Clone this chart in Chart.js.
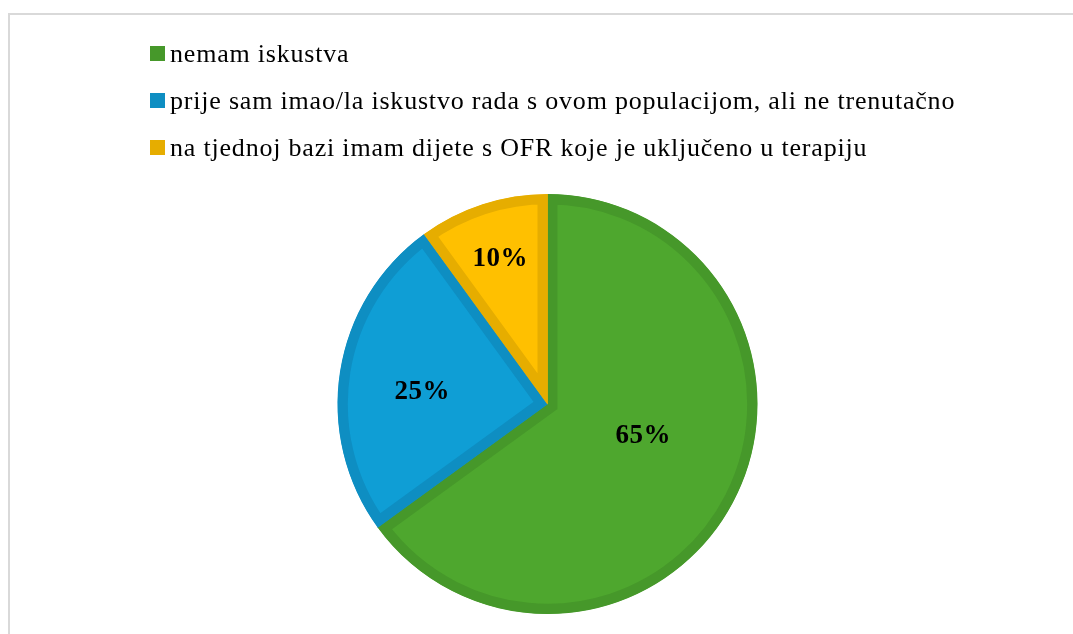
<!DOCTYPE html>
<html>
<head>
<meta charset="utf-8">
<script src="https://cdn.jsdelivr.net/npm/chart.js@4.4.1/dist/chart.umd.min.js"></script>
<style>
  html, body { margin: 0; padding: 0; background: #fff; overflow: hidden; }
  #wrap { position: relative; width: 1073px; height: 634px; }
  #frame { position: absolute; left: 8px; top: 13px; width: 2000px; height: 2000px; border: 2px solid #d9d9d9; box-sizing: border-box; }
  canvas { position: absolute; left: 0; top: 0; }
</style>
</head>
<body>
<div id="wrap">
  <div id="frame"></div>
  <canvas id="c" width="1073" height="634"></canvas>
</div>
<script>
const categories = [
  'nemam iskustva',
  'prije sam imao/la iskustvo rada s ovom populacijom, ali ne trenutačno',
  'na tjednoj bazi imam dijete s OFR koje je uključeno u terapiju'
];
const values = [65, 25, 10];

const fillColors = ['#4EA72E', '#0F9ED5', '#FFC000'];
const edgeColors = ['#46982A', '#0E8EC2', '#E6AD00'];
// label placement: fraction of radius, angle tweak (degrees)
const labelRadius = [0.48, 0.60, 0.73];
const labelAngleTweak = [-9, -3, 0];

const legendPlugin = {
  id: 'customLegend',
  afterDraw(chart) {
    const ctx = chart.ctx;
    ctx.save();
    ctx.font = '26px "Liberation Serif", "Times New Roman", serif';
    ctx.letterSpacing = '0.8px';
    ctx.textBaseline = 'alphabetic';
    ctx.textAlign = 'left';
    chart.data.labels.forEach((lab, i) => {
      const top = 46 + i * 47;
      ctx.fillStyle = edgeColors[i];
      ctx.fillRect(150, top, 15, 15);
      ctx.fillStyle = '#000';
      ctx.fillText(lab, 170, top + 16);
    });
    ctx.restore();
  }
};

const labelPlugin = {
  id: 'sliceLabels',
  afterDatasetsDraw(chart) {
    const ctx = chart.ctx;
    const meta = chart.getDatasetMeta(0);
    const data = chart.data.datasets[0].data;
    const total = data.reduce((a, b) => a + b, 0);
    ctx.save();
    ctx.font = 'bold 27px "Liberation Serif", "Times New Roman", serif';
    ctx.letterSpacing = '0.5px';
    ctx.fillStyle = '#000';
    ctx.textAlign = 'center';
    ctx.textBaseline = 'middle';
    meta.data.forEach((arc, i) => {
      const p = arc.getProps(['x', 'y', 'startAngle', 'endAngle', 'outerRadius'], true);
      const mid = (p.startAngle + p.endAngle) / 2 + labelAngleTweak[i] * Math.PI / 180;
      const r = p.outerRadius * labelRadius[i];
      const x = p.x + Math.cos(mid) * r;
      const y = p.y + Math.sin(mid) * r;
      ctx.fillText(Math.round(data[i] / total * 100) + '%', x, y + 1);
    });
    ctx.restore();
  }
};

new Chart(document.getElementById('c'), {
  type: 'pie',
  data: {
    labels: categories,
    datasets: [{
      data: values,
      backgroundColor: fillColors,
      borderColor: edgeColors,
      borderWidth: 10,
      borderAlign: 'inner',
      borderJoinStyle: 'miter'
    }]
  },
  options: {
    responsive: false,
    animation: false,
    events: [],
    layout: { padding: { left: 22, right: 0, top: 194, bottom: 20 } },
    plugins: {
      legend: { display: false },
      tooltip: { enabled: false }
    }
  },
  plugins: [legendPlugin, labelPlugin]
});
</script>
</body>
</html>
